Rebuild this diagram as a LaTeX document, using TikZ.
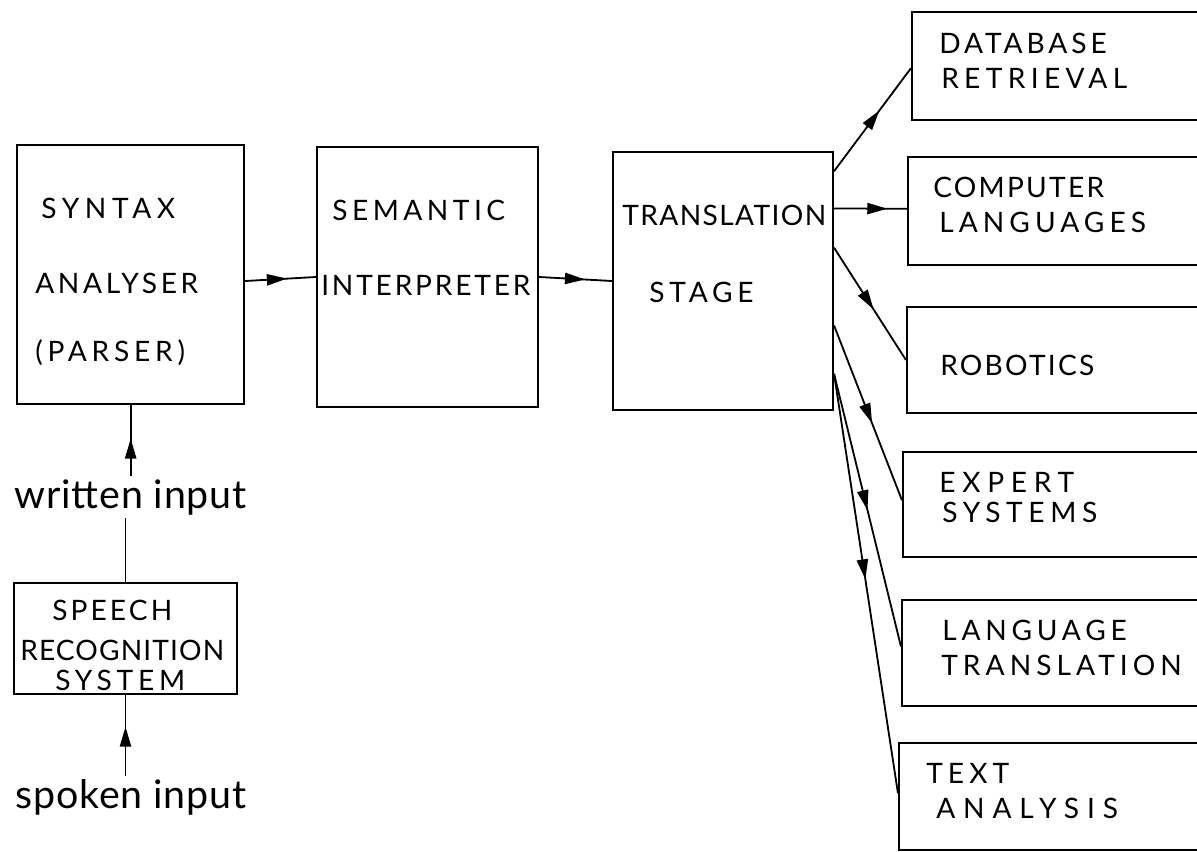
\documentclass[tikz,border=0pt]{standalone}
\usepackage{fontspec}
\setmainfont{Lato}
\usetikzlibrary{arrows.meta,decorations.markings,fit,calc}

% letter-spaced text: \ls{amount}{text}
\newcommand{\ls}[2]{{\addfontfeature{LetterSpace=#1}#2}}

\begin{document}
\begin{tikzpicture}[x=0.025cm,y=-0.025cm,
  box/.style={draw, line width=1.5pt, inner sep=0pt},
  caps/.style={anchor=west, inner sep=0pt, font=\fontsize{20}{24}\selectfont},
  hand/.style={anchor=base west, inner sep=0pt, outer sep=2pt, font=\fontsize{28}{32}\selectfont},
  link/.style={line width=1.3pt},
  flow/.style={link, postaction={decorate},
    decoration={markings, mark=at position #1 with {\arrow{Triangle[length=5mm,width=2.8mm]}}}}
]
\useasboundingbox (0,0) rectangle (1197,852);
\clip (0,0) rectangle (1197,852);

% main processing chain
\node[box, fit={(17,145) (244,404)}] (syn) {};
\node[box, fit={(317,147) (538,407)}] (sem) {};
\node[box, fit={(613,152) (833,410)}] (tr) {};
\node[box, fit={(14,583) (237,694)}] (spr) {};

% application boxes (running off the right edge)
\node[box, fit={(912,12) (1215,120)}] (db) {};
\node[box, fit={(908,157) (1215,265)}] (cl) {};
\node[box, fit={(907,307) (1215,413)}] (rob) {};
\node[box, fit={(903,452) (1215,557)}] (exs) {};
\node[box, fit={(902,600) (1215,706)}] (lt) {};
\node[box, fit={(899,743) (1215,850)}] (ta) {};

% box captions
\node[caps] (syn1) at (41,208) {\ls{20}{SYNTAX}};
\node[caps] (syn2) at (35,283) {\ls{13}{ANALYSER}};
\node[caps] (syn3) at (35,353) {\ls{17}{(PARSER)}};
\node[caps] (sem1) at (332,210) {\ls{16}{SEMANTIC}};
\node[caps] (sem2) at (321,285) {\ls{10}{INTERPRETER}};
\node[caps] (tr1) at (622,215) {\ls{5}{TRANSLATION}};
\node[caps] (tr2) at (649,292) {\ls{17}{STAGE}};
\node[caps] (db1) at (939,43) {\ls{14}{DATABASE}};
\node[caps] (db2) at (941,78) {\ls{19}{RETRIEVAL}};
\node[caps] (cl1) at (933,187) {\ls{8}{COMPUTER}};
\node[caps] (cl2) at (939,222) {\ls{18}{LANGUAGES}};
\node[caps] (rob1) at (940,365) {\ls{8}{ROBOTICS}};
\node[caps] (exs1) at (939,482) {\ls{24}{EXPERT}};
\node[caps] (exs2) at (942,512) {\ls{20}{SYSTEMS}};
\node[caps] (lt1) at (942,630) {\ls{17}{LANGUAGE}};
\node[caps] (lt2) at (941,665) {\ls{18}{TRANSLATION}};
\node[caps] (ta1) at (926,773) {\ls{18}{TEXT}};
\node[caps] (ta2) at (936,808) {\ls{28}{ANALYSIS}};
\node[caps] (spr1) at (52,610) {\ls{11}{SPEECH}};
\node[caps] (spr2) at (20,650) {\ls{4}{RECOGNITION}};
\node[caps] (spr3) at (55,680) {\ls{17}{SYSTEM}};

% input labels
\node[hand] (wri) at (12,508) {\ls{2}{written input}};
\node[hand] (spk) at (13,808) {\ls{2}{spoken input}};

% left column
\draw[flow=0.61] (spr.south |- spk.north) -- (spr.south);
\draw[link] (spr.north) -- (spr.north |- wri.south);
\draw[flow=0.53] (wri.north) -- (wri.north |- syn.south);

% main chain
\draw[flow=0.59] ($(syn.north east)!0.525!(syn.south east)$) -- ($(sem.north west)!0.5!(sem.south west)$);
\draw[flow=0.63] (sem.east) -- (tr.west);

% fan-out to the applications
\draw[flow=0.59] ($(tr.north east)!0.078!(tr.south east)$) -- ($(db.north west)!0.52!(db.south west)$);
\draw[flow=0.73] ($(tr.north east)!0.221!(tr.south east)$) -- ($(cl.north west)!0.48!(cl.south west)$);
\draw[flow=0.55] ($(tr.north east)!0.372!(tr.south east)$) -- ($(rob.north west)!0.5!(rob.south west)$);
\draw[flow=0.56] ($(tr.north east)!0.671!(tr.south east)$) -- ($(exs.north west)!0.46!(exs.south west)$);
\draw[flow=0.50] ($(tr.north east)!0.857!(tr.south east)$) -- ($(lt.north west)!0.44!(lt.south west)$);
\draw[flow=0.49] ($(tr.north east)!0.857!(tr.south east)$) -- ($(ta.north west)!0.47!(ta.south west)$);
\end{tikzpicture}
\end{document}
